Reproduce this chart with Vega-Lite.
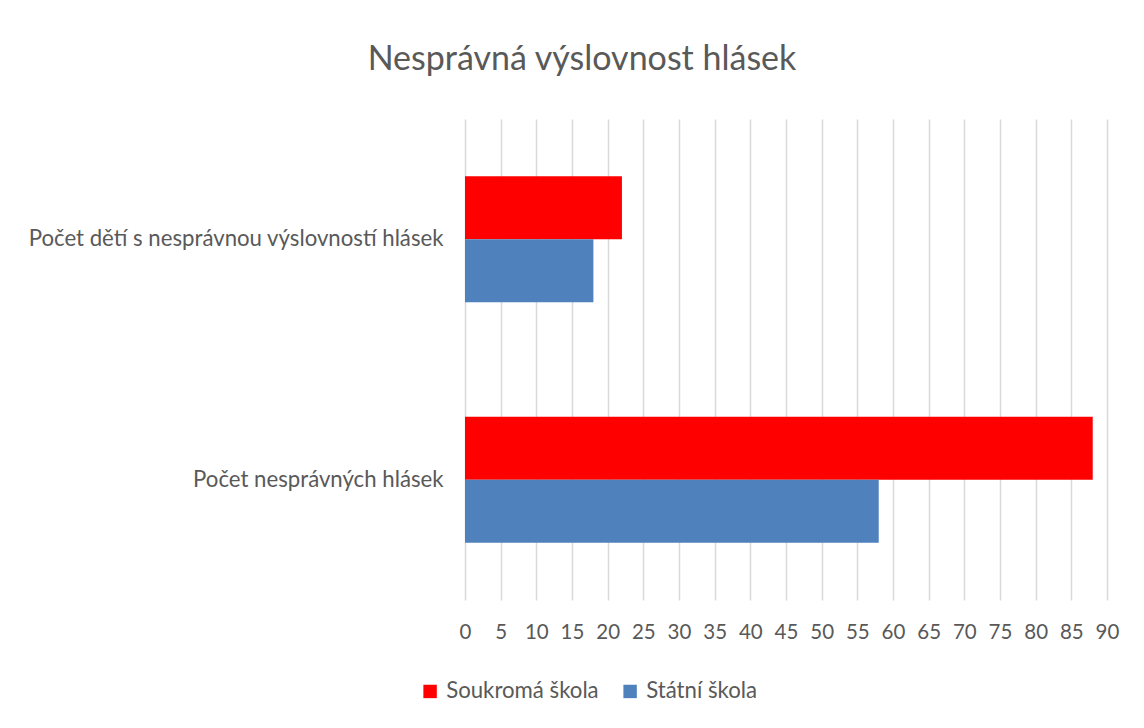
{
  "$schema": "https://vega.github.io/schema/vega-lite/v6.json",
  "width": 642,
  "height": 481,
  "autosize": "none",
  "padding": {"left": 465, "top": 119, "right": 37, "bottom": 128},
  "background": "white",
  "title": {
    "text": "Nesprávná výslovnost hlásek",
    "anchor": "middle",
    "frame": "group",
    "dx": -204,
    "offset": 42,
    "fontSize": 34,
    "font": "Lato",
    "fontWeight": "normal",
    "color": "#595959"
  },
  "config": {
    "view": {"stroke": null},
    "font": "Lato"
  },
  "data": {
    "values": [
      {"kategorie": "Počet dětí s nesprávnou výslovností hlásek", "skola": "Soukromá škola", "pocet": 22},
      {"kategorie": "Počet dětí s nesprávnou výslovností hlásek", "skola": "Státní škola", "pocet": 18},
      {"kategorie": "Počet nesprávných hlásek", "skola": "Soukromá škola", "pocet": 88},
      {"kategorie": "Počet nesprávných hlásek", "skola": "Státní škola", "pocet": 58}
    ]
  },
  "mark": {"type": "bar"},
  "encoding": {
    "y": {
      "field": "kategorie",
      "type": "nominal",
      "sort": null,
      "scale": {"paddingInner": 0.476, "paddingOuter": 0.238},
      "axis": {
        "title": null,
        "domain": false,
        "ticks": false,
        "labelFontSize": 22.2,
        "labelColor": "#595959",
        "labelPadding": 22,
        "labelLimit": 500
      }
    },
    "yOffset": {
      "field": "skola",
      "type": "nominal",
      "sort": ["Soukromá škola", "Státní škola"],
      "scale": {"paddingInner": 0, "paddingOuter": 0}
    },
    "x": {
      "field": "pocet",
      "type": "quantitative",
      "scale": {"domain": [0, 90], "nice": false},
      "axis": {
        "title": null,
        "values": [0,5,10,15,20,25,30,35,40,45,50,55,60,65,70,75,80,85,90],
        "domain": false,
        "ticks": false,
        "grid": true,
        "gridColor": "#d9d9d9",
        "gridWidth": 1.5,
        "labelFlush": false,
        "labelFontSize": 20.5,
        "labelColor": "#595959",
        "labelPadding": 22
      }
    },
    "color": {
      "field": "skola",
      "type": "nominal",
      "scale": {"domain": ["Soukromá škola", "Státní škola"], "range": ["#FF0000", "#4F81BD"]},
      "legend": {
        "title": null,
        "orient": "none",
        "direction": "horizontal",
        "legendX": -46,
        "legendY": 561,
        "symbolType": "square",
        "symbolSize": 180,
        "symbolStrokeWidth": 0,
        "labelFontSize": 22.2,
        "labelColor": "#595959",
        "columnPadding": 20,
        "labelOffset": 5
      }
    }
  }
}
